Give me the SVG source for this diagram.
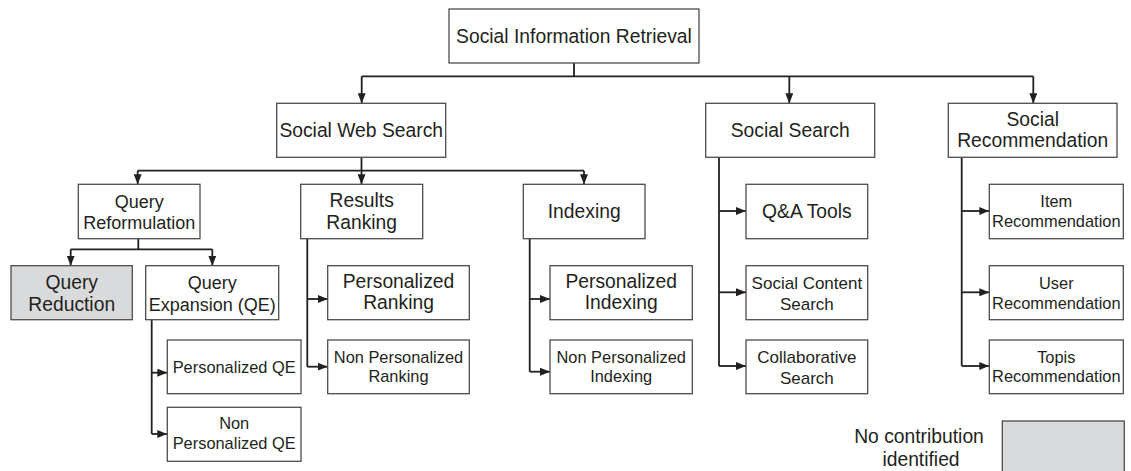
<svg xmlns="http://www.w3.org/2000/svg" width="1131" height="471" viewBox="0 0 1131 471">
<style>
.box{fill:#fff;stroke:#4d4d4d;stroke-width:1.3}
.gray{fill:#d9dadc}
text{font-family:"Liberation Sans",Arial,sans-serif;fill:#231f20;text-anchor:middle}
.f19{font-size:19.3px}
.f18{font-size:18px}
.f17{font-size:17px}
.f16{font-size:16.4px}
.conn{fill:none;stroke:#231f20;stroke-width:1.8}
</style>
<defs>
<marker id="ah" markerUnits="userSpaceOnUse" markerWidth="10" markerHeight="8" refX="10" refY="4" orient="auto">
<path d="M0,0 L10,4 L0,8 z" fill="#231f20"/>
</marker>
</defs>
<g id="connectors">
<path class="conn" d="M574,63 V76.3 M361.7,76.3 H1033.3"/>
<path class="conn" marker-end="url(#ah)" d="M361.7,76.3 V103.3"/>
<path class="conn" marker-end="url(#ah)" d="M789.3,76.3 V103.3"/>
<path class="conn" marker-end="url(#ah)" d="M1033.3,76.3 V103.3"/>
<path class="conn" d="M361.5,157.3 V170.7 M137.7,170.7 H584"/>
<path class="conn" marker-end="url(#ah)" d="M137.7,170.7 V184.3"/>
<path class="conn" marker-end="url(#ah)" d="M361.5,170.7 V184.3"/>
<path class="conn" marker-end="url(#ah)" d="M584,170.7 V184.3"/>
<path class="conn" d="M138.3,238.7 V249.3 M70.7,249.3 H212.3"/>
<path class="conn" marker-end="url(#ah)" d="M70.7,249.3 V265.7"/>
<path class="conn" marker-end="url(#ah)" d="M212.3,249.3 V265.7"/>
<path class="conn" d="M151.7,319.7 V434"/>
<path class="conn" marker-end="url(#ah)" d="M151.7,372.7 H167.3"/>
<path class="conn" marker-end="url(#ah)" d="M151.7,434 H167.3"/>
<path class="conn" d="M307.3,238.7 V366.7"/>
<path class="conn" marker-end="url(#ah)" d="M307.3,299 H327.7"/>
<path class="conn" marker-end="url(#ah)" d="M307.3,366.7 H327.7"/>
<path class="conn" d="M529.7,238.7 V371.7"/>
<path class="conn" marker-end="url(#ah)" d="M529.7,299 H550"/>
<path class="conn" marker-end="url(#ah)" d="M529.7,371.7 H550"/>
<path class="conn" d="M719,157.3 V366"/>
<path class="conn" marker-end="url(#ah)" d="M719,211 H746"/>
<path class="conn" marker-end="url(#ah)" d="M719,292.3 H746"/>
<path class="conn" marker-end="url(#ah)" d="M719,366 H746"/>
<path class="conn" d="M961.7,157.3 V366"/>
<path class="conn" marker-end="url(#ah)" d="M961.7,211 H989.3"/>
<path class="conn" marker-end="url(#ah)" d="M961.7,292.3 H989.3"/>
<path class="conn" marker-end="url(#ah)" d="M961.7,366 H989.3"/>
</g>
<g id="root"><rect class="box" x="449" y="9" width="250" height="54"/><text class="f19" x="574" y="43">Social Information Retrieval</text></g>
<g id="social-web-search"><rect class="box" x="276.7" y="103.3" width="169" height="54"/><text class="f19" x="361.2" y="137">Social Web Search</text></g>
<g id="social-search"><rect class="box" x="705.7" y="103.3" width="169" height="54"/><text class="f19" x="790.2" y="137.3">Social Search</text></g>
<g id="social-recommendation"><rect class="box" x="948.3" y="103.3" width="168.7" height="54"/><text class="f19" x="1032.7" y="125.7">Social</text><text class="f19" x="1032.7" y="146.7">Recommendation</text></g>
<g id="query-reformulation"><rect class="box" x="78.3" y="184.3" width="121.7" height="54.4"/><text class="f18" x="139.2" y="207.7">Query</text><text class="f18" x="139.2" y="229">Reformulation</text></g>
<g id="results-ranking"><rect class="box" x="300.7" y="184.3" width="122" height="54.4"/><text class="f19" x="361.7" y="207.3">Results</text><text class="f19" x="361.7" y="229">Ranking</text></g>
<g id="indexing"><rect class="box" x="523.3" y="184.3" width="121.7" height="54.4"/><text class="f19" x="584.2" y="218.3">Indexing</text></g>
<g id="query-reduction"><rect class="box gray" x="11" y="265.7" width="121.3" height="54"/><text class="f19" x="71.7" y="289">Query</text><text class="f19" x="71.7" y="311">Reduction</text></g>
<g id="query-expansion"><rect class="box" x="145.7" y="265.7" width="133" height="54"/><text class="f18" x="212.2" y="289.3">Query</text><text class="f18" x="212.2" y="310.7">Expansion (QE)</text></g>
<g id="personalized-qe"><rect class="box" x="167.3" y="340" width="133.7" height="53.7"/><text class="f16" x="234.2" y="373">Personalized QE</text></g>
<g id="non-personalized-qe"><rect class="box" x="167.3" y="407.3" width="133.7" height="54"/><text class="f16" x="234.2" y="429.3">Non</text><text class="f16" x="234.2" y="449.3">Personalized QE</text></g>
<g id="personalized-ranking"><rect class="box" x="327.7" y="265.7" width="141.6" height="54"/><text class="f19" x="398.5" y="287.7">Personalized</text><text class="f19" x="398.5" y="309.3">Ranking</text></g>
<g id="non-personalized-ranking"><rect class="box" x="327.7" y="340" width="141.6" height="53.7"/><text class="f16" x="398.5" y="363">Non Personalized</text><text class="f16" x="398.5" y="382">Ranking</text></g>
<g id="personalized-indexing"><rect class="box" x="550" y="265.7" width="142.3" height="54"/><text class="f19" x="621.2" y="287.7">Personalized</text><text class="f19" x="621.2" y="309.3">Indexing</text></g>
<g id="non-personalized-indexing"><rect class="box" x="550" y="340" width="142.3" height="53.7"/><text class="f16" x="621.2" y="363">Non Personalized</text><text class="f16" x="621.2" y="382">Indexing</text></g>
<g id="qa-tools"><rect class="box" x="746" y="184.3" width="121.7" height="54.4"/><text class="f19" x="806.9" y="218.3">Q&amp;A Tools</text></g>
<g id="social-content-search"><rect class="box" x="746" y="265.7" width="121.7" height="54"/><text class="f17" x="806.9" y="289">Social Content</text><text class="f17" x="806.9" y="310">Search</text></g>
<g id="collaborative-search"><rect class="box" x="746" y="340" width="121.7" height="53.7"/><text class="f17" x="806.9" y="363.3">Collaborative</text><text class="f17" x="806.9" y="384">Search</text></g>
<g id="item-recommendation"><rect class="box" x="989.3" y="184.3" width="134" height="54.4"/><text class="f16" x="1056.3" y="207.3">Item</text><text class="f16" x="1056.3" y="227.3">Recommendation</text></g>
<g id="user-recommendation"><rect class="box" x="989.3" y="265.7" width="134" height="54"/><text class="f16" x="1056.3" y="288.7">User</text><text class="f16" x="1056.3" y="308.7">Recommendation</text></g>
<g id="topis-recommendation"><rect class="box" x="989.3" y="340" width="134" height="53.7"/><text class="f16" x="1056.3" y="362.5">Topis</text><text class="f16" x="1056.3" y="382.3">Recommendation</text></g>
<g id="legend"><text class="f19" x="919" y="442.7">No contribution</text><text class="f19" x="921" y="465.7">identified</text><rect class="box gray" x="1002.3" y="421" width="122" height="52"/></g>
</svg>
